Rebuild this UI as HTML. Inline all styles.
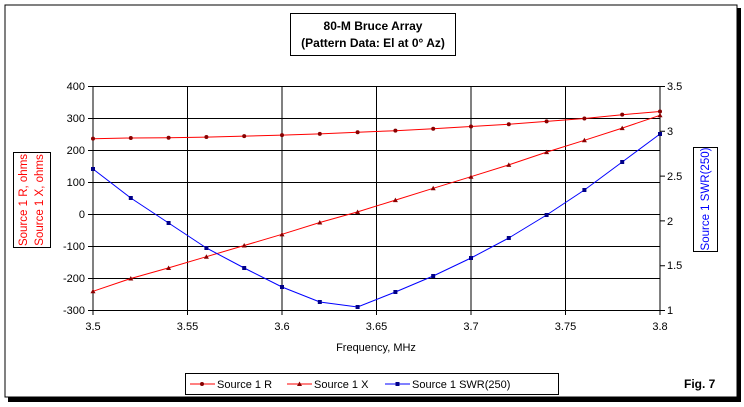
<!DOCTYPE html>
<html><head><style>body{margin:0;background:#fff}svg{display:block}text{font-family:"Liberation Sans",Arial,sans-serif;font-size:11px}</style></head><body>
<svg width="744" height="407" viewBox="0 0 744 407">
<rect x="8" y="8" width="733" height="394" fill="#000"/>
<rect x="5" y="5" width="732" height="392" fill="#fff" stroke="#000" stroke-width="1"/>
<rect x="290.5" y="13.5" width="165" height="42" fill="#fff" stroke="#000"/>
<text x="373" y="30" text-anchor="middle" font-weight="bold" style="font-size:12px">80-M Bruce Array</text>
<text x="373" y="47" text-anchor="middle" font-weight="bold" style="font-size:12px">(Pattern Data: El at 0° Az)</text>
<g stroke="#000" stroke-width="1" fill="none">
<rect x="93" y="86.5" width="567" height="224"/>
<path d="M93 118.5H660M93 150.5H660M93 182.5H660M93 214.5H660M93 246.5H660M93 278.5H660"/>
<path d="M187.5 86.5V310.5M282 86.5V310.5M376.5 86.5V310.5M471 86.5V310.5M565.5 86.5V310.5"/>
<path d="M88 86.5H93M88 118.5H93M88 150.5H93M88 182.5H93M88 214.5H93M88 246.5H93M88 278.5H93M88 310.5H93"/>
<path d="M660 86.5H665M660 131.3H665M660 176.1H665M660 220.9H665M660 265.7H665M660 310.5H665"/>
<path d="M93 310.5V315M187.5 310.5V315M282 310.5V315M376.5 310.5V315M471 310.5V315M565.5 310.5V315M660 310.5V315"/>
<rect x="13.5" y="152.5" width="37" height="95"/>
<rect x="693.5" y="147.5" width="24" height="104"/>
</g>
<g text-anchor="end">
<text x="85" y="90">400</text><text x="85" y="122">300</text><text x="85" y="154">200</text><text x="85" y="186">100</text><text x="85" y="218">0</text><text x="85" y="250">-100</text><text x="85" y="282">-200</text><text x="85" y="314">-300</text>
</g>
<g>
<text x="667" y="90">3.5</text><text x="667" y="135">3</text><text x="667" y="180">2.5</text><text x="667" y="225">2</text><text x="667" y="269">1.5</text><text x="667" y="314">1</text>
</g>
<g text-anchor="middle">
<text x="93" y="330">3.5</text><text x="187.5" y="330">3.55</text><text x="282" y="330">3.6</text><text x="376.5" y="330">3.65</text><text x="471" y="330">3.7</text><text x="565.5" y="330">3.75</text><text x="660" y="330">3.8</text>
<text x="376" y="351">Frequency, MHz</text>
</g>
<text transform="translate(27,200) rotate(-90)" text-anchor="middle" fill="#f00" style="font-size:11.5px">Source 1 R, ohms</text>
<text transform="translate(43,200) rotate(-90)" text-anchor="middle" fill="#f00" style="font-size:11.5px">Source 1 X, ohms</text>
<text transform="translate(709,199) rotate(-90)" text-anchor="middle" fill="#00f" style="font-size:11.5px">Source 1 SWR(250)</text>
<g id="series"></g>
<rect x="185.5" y="373.5" width="373" height="21" fill="#fff" stroke="#000"/>
<path d="M190 384H215" stroke="#f00"/><circle cx="202" cy="384" r="2" fill="#800"/>
<text x="217" y="388">Source 1 R</text>
<path d="M287 384H312" stroke="#f00"/><path d="M299.5 381.5L302 386H297Z" fill="#800"/>
<text x="314" y="388">Source 1 X</text>
<path d="M385 384H410" stroke="#00f"/><rect x="395.5" y="382" width="4" height="4" fill="#008"/>
<text x="412" y="388">Source 1 SWR(250)</text>
<text x="684" y="388" font-weight="bold" style="font-size:12px">Fig. 7</text>
</svg>
<script>
var R=[237,239,240,242,245,248,252,257,262,268,275,282,291,300,312,322];
var X=[-240,-200,-167,-132,-97,-62,-25,8,45,82,118,155,195,232,270,310];
var S=[169,198,223,248,268,287,302,307,292,276,258,238,215,190,162,134];
function px(i){return 93+i*567/15}
function py(v){return 214.5-v*0.32}
var g=document.getElementById('series'),h='';
function line(pts,c){return '<polyline fill="none" stroke="'+c+'" stroke-width="1" points="'+pts.map(function(p){return p[0].toFixed(1)+','+p[1].toFixed(1)}).join(' ')+'"/>';}
var pr=R.map(function(v,i){return[px(i),py(v)]}),pxx=X.map(function(v,i){return[px(i),py(v)]}),ps=S.map(function(v,i){return[px(i),v]});
h+=line(pr,'#f00')+line(pxx,'#f00')+line(ps,'#00f');
pr.forEach(function(p){h+='<circle cx="'+p[0]+'" cy="'+p[1]+'" r="2" fill="#800"/>'});
pxx.forEach(function(p){h+='<path d="M'+p[0]+' '+(p[1]-2.5)+'L'+(p[0]+2.5)+' '+(p[1]+2)+'H'+(p[0]-2.5)+'Z" fill="#800"/>'});
ps.forEach(function(p){h+='<rect x="'+(p[0]-2)+'" y="'+(p[1]-2)+'" width="4" height="4" fill="#008"/>'});
g.innerHTML=h;
</script>
</body></html>
